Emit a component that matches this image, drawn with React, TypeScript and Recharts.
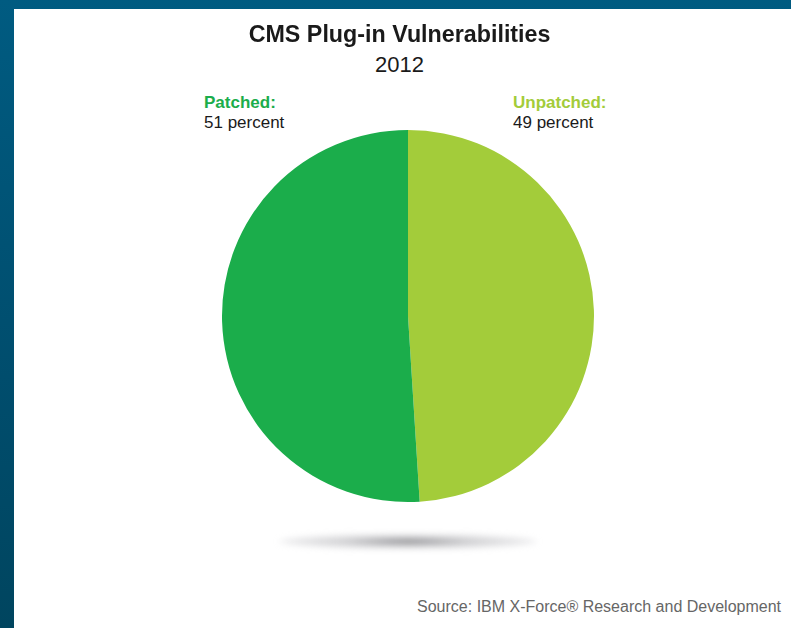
import React from "react";
import { PieChart, Pie, Cell } from "recharts";

const categories = ["Unpatched", "Patched"];
const values = [49, 51];
const colors = ["#a3cc3a", "#1bad4b"];
const labelTitles = ["Unpatched:", "Patched:"];
const labelValues = ["49 percent", "51 percent"];

const data = categories.map((name, i) => ({ name, value: values[i] }));

const W = 791;
const H = 628;

export default function App() {
  return (
    <div
      style={{
        position: "absolute",
        left: 0,
        top: 0,
        width: W,
        height: H,
        overflow: "hidden",
        background: "linear-gradient(180deg, #005b81 0%, #004d6d 60%, #00455f 100%)",
        fontFamily: "Arial, 'Liberation Sans', Helvetica, sans-serif",
      }}
    >
      <div
        style={{
          position: "absolute",
          left: 14,
          top: 9,
          width: W - 14,
          height: H - 9,
          background: "#ffffff",
        }}
      />
      <div
        style={{
          position: "absolute",
          left: 0,
          width: W,
          top: 19,
          textAlign: "center",
          paddingLeft: 8,
          boxSizing: "border-box",
          fontWeight: 700,
          fontSize: 24,
          color: "#1a1a1a",
          lineHeight: "30px",
        }}
      >
        <span style={{ display: "inline-block", transform: "scaleX(0.97)" }}>CMS Plug-in Vulnerabilities</span>
      </div>
      <div
        style={{
          position: "absolute",
          left: 0,
          width: W,
          top: 51,
          textAlign: "center",
          paddingLeft: 8,
          boxSizing: "border-box",
          fontSize: 22,
          color: "#1a1a1a",
          lineHeight: "28px",
        }}
      >
        2012
      </div>
      <div style={{ position: "absolute", left: 204, top: 93, fontSize: 17, lineHeight: "20px" }}>
        <div style={{ color: colors[1], fontWeight: 700 }}>{labelTitles[1]}</div>
        <div style={{ color: "#1a1a1a" }}>{labelValues[1]}</div>
      </div>
      <div style={{ position: "absolute", left: 513, top: 93, fontSize: 17, lineHeight: "20px" }}>
        <div style={{ color: colors[0], fontWeight: 700 }}>{labelTitles[0]}</div>
        <div style={{ color: "#1a1a1a" }}>{labelValues[0]}</div>
      </div>
      <div
        style={{
          position: "absolute",
          left: 279,
          top: 534,
          width: 258,
          height: 15,
          borderRadius: "50%",
          background: "radial-gradient(ellipse at center, rgba(90,90,95,0.75) 0%, rgba(150,150,155,0.45) 35%, rgba(200,200,205,0.3) 70%, rgba(230,230,235,0) 100%)",
          filter: "blur(3px)",
        }}
      />
      <div style={{ position: "absolute", left: 0, top: 0 }}>
        <PieChart width={W} height={H} margin={{ top: 0, right: 0, bottom: 0, left: 0 }}>
          <Pie
            data={data}
            dataKey="value"
            nameKey="name"
            cx={408}
            cy={316}
            outerRadius={186}
            innerRadius={0}
            startAngle={90}
            endAngle={-270}
            stroke="none"
            isAnimationActive={false}
          >
            {data.map((d, i) => (
              <Cell key={d.name} fill={colors[i]} />
            ))}
          </Pie>
        </PieChart>
      </div>
      <div
        style={{
          position: "absolute",
          right: 10,
          top: 597,
          fontSize: 16,
          color: "#666666",
          lineHeight: "20px",
        }}
      >
        Source: IBM X-Force® Research and Development
      </div>
    </div>
  );
}
